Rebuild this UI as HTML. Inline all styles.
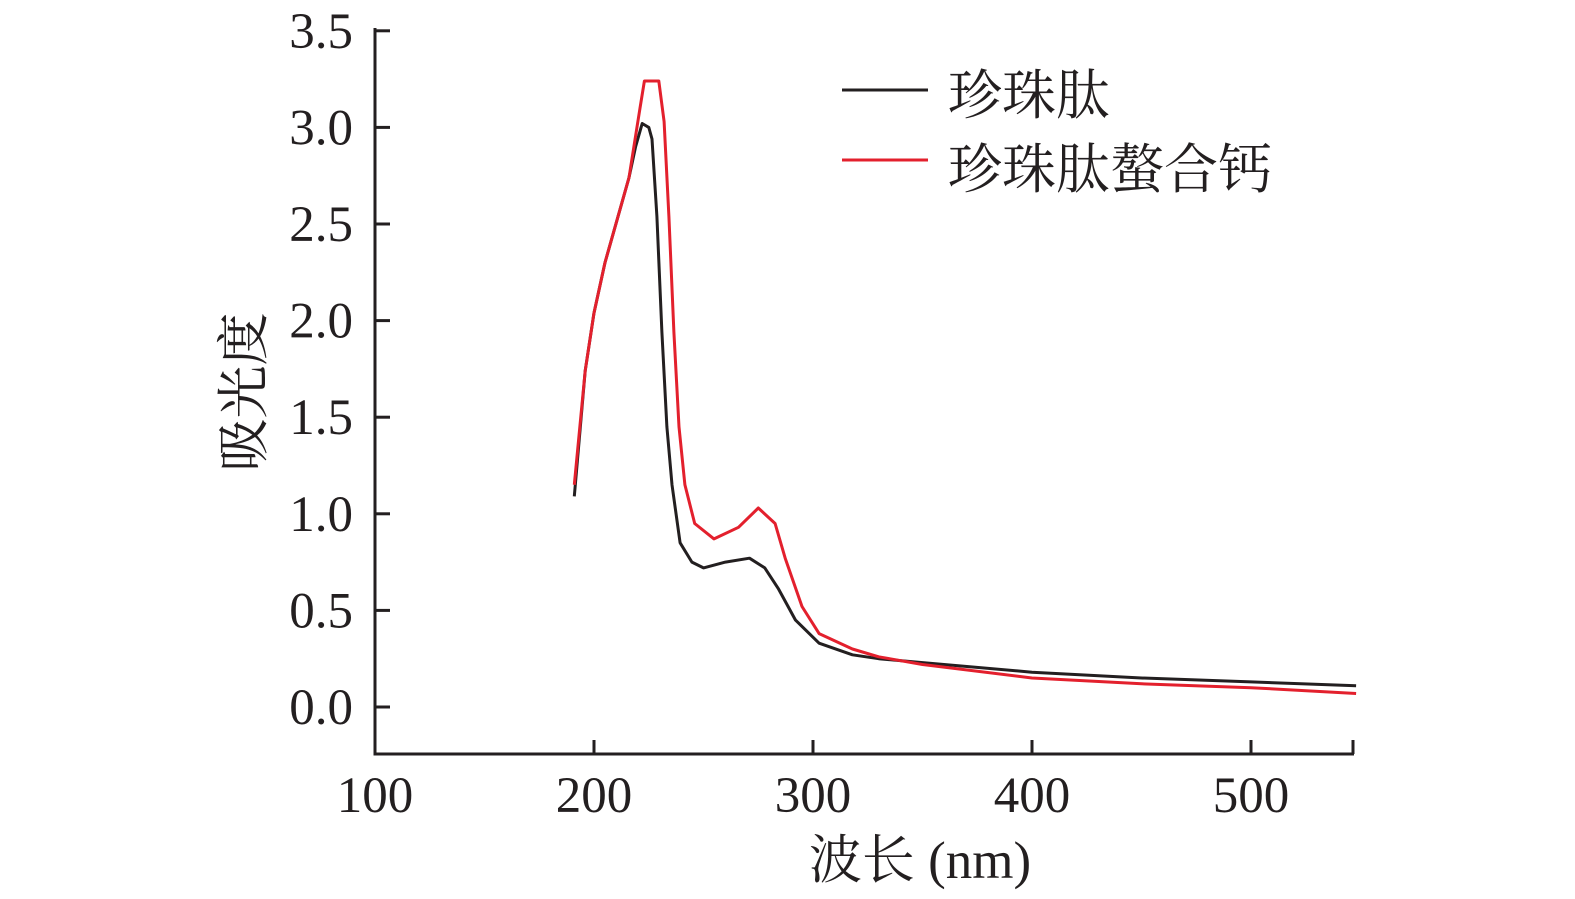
<!DOCTYPE html>
<html><head><meta charset="utf-8"><style>
html,body{margin:0;padding:0;background:#fff;}
svg{display:block;}
text{font-family:"Liberation Serif","Noto Serif CJK SC",serif;fill:#231f20;}
</style></head><body>
<svg id="chart" width="1575" height="899" viewBox="0 0 1575 899" xmlns="http://www.w3.org/2000/svg">
<g id="axes"></g>
<g id="series"></g>
<g id="legend">
  <line x1="842" y1="90" x2="928" y2="90" stroke="#231f20" stroke-width="3"/>
  <text x="948" y="114" font-size="54">珍珠肽</text>
  <line x1="842" y1="160" x2="928" y2="160" stroke="#e3202d" stroke-width="3"/>
  <text x="948" y="188" font-size="54">珍珠肽螯合钙</text>
</g>
<text transform="translate(262,392) rotate(-90)" text-anchor="middle" font-size="53">吸光度</text>
<text x="920" y="878" text-anchor="middle" font-size="53">波长 (nm)</text>
</svg>
<script>
const xTicks=[100,200,300,400,500];
const yTicks=[0,0.5,1.0,1.5,2.0,2.5,3.0,3.5];
const yTickLabels=["0.0","0.5","1.0","1.5","2.0","2.5","3.0","3.5"];
const peptideX=[191,196,200,205,210,216,219,222,225,226.5,228.7,231,233.3,235.6,239.3,244.7,250,260,271,278,284.3,292,302.8,318,330,350,400,450,500,548];
const peptideY=[1.09,1.74,2.04,2.30,2.50,2.74,2.90,3.02,3.00,2.94,2.54,1.94,1.45,1.15,0.85,0.75,0.72,0.75,0.77,0.72,0.61,0.45,0.33,0.27,0.25,0.23,0.18,0.15,0.13,0.11];
const chelateX=[191,196,200,205,210,216,221,223,229.6,232,234.2,236.5,238.8,241.5,246,254.8,266,275,282.7,287.3,295,302.8,318,330,350,400,450,500,548];
const chelateY=[1.15,1.74,2.04,2.30,2.50,2.74,3.10,3.24,3.24,3.03,2.54,1.94,1.45,1.15,0.95,0.87,0.93,1.03,0.95,0.77,0.52,0.38,0.30,0.26,0.22,0.15,0.12,0.10,0.07];
const X0=375, XS=2.19, Y0=707, YS=193.2;
const sx=v=>X0+(v-100)*XS;
const sy=v=>Y0-v*YS;
const NS="http://www.w3.org/2000/svg";
function mk(tag,attrs,parent){const e=document.createElementNS(NS,tag);for(const k in attrs)e.setAttribute(k,attrs[k]);parent.appendChild(e);return e;}
const axes=document.getElementById('axes');
const xa=mk('path',{d:`M${X0} 28 L${X0} 754 L1354 754`,fill:'none',stroke:'#231f20','stroke-width':3},axes);


xTicks.forEach(v=>{
  const t=mk('line',{x1:sx(v),x2:sx(v),y1:754,y2:740,stroke:'#231f20','stroke-width':3},axes);
  
  
  const l=mk('text',{x:sx(v),y:812,'text-anchor':'middle','font-size':51},axes);
  l.textContent=v;
  
  
});
const tr=mk('line',{x1:1353,x2:1353,y1:754,y2:740,stroke:'#231f20','stroke-width':3},axes);


yTicks.forEach((v,i)=>{
  const t=mk('line',{x1:X0,x2:X0+15,y1:sy(v),y2:sy(v),stroke:'#231f20','stroke-width':3},axes);
  
  
  const l=mk('text',{x:353,y:sy(v)+17,'text-anchor':'end','font-size':51},axes);
  l.textContent=yTickLabels[i];
  
  
});
const series=document.getElementById('series');
function line(xs,ys,color,name){
  const d=xs.map((x,i)=>(i?'L':'M')+sx(x).toFixed(1)+' '+sy(ys[i]).toFixed(1)).join(' ');
  const p=mk('path',{d:d,fill:'none',stroke:color,'stroke-width':3,'stroke-linejoin':'round'},series);
  
  
}
line(peptideX,peptideY,'#231f20','line-pearl-peptide');
line(chelateX,chelateY,'#e3202d','line-pearl-peptide-calcium');
</script>
</body></html>
